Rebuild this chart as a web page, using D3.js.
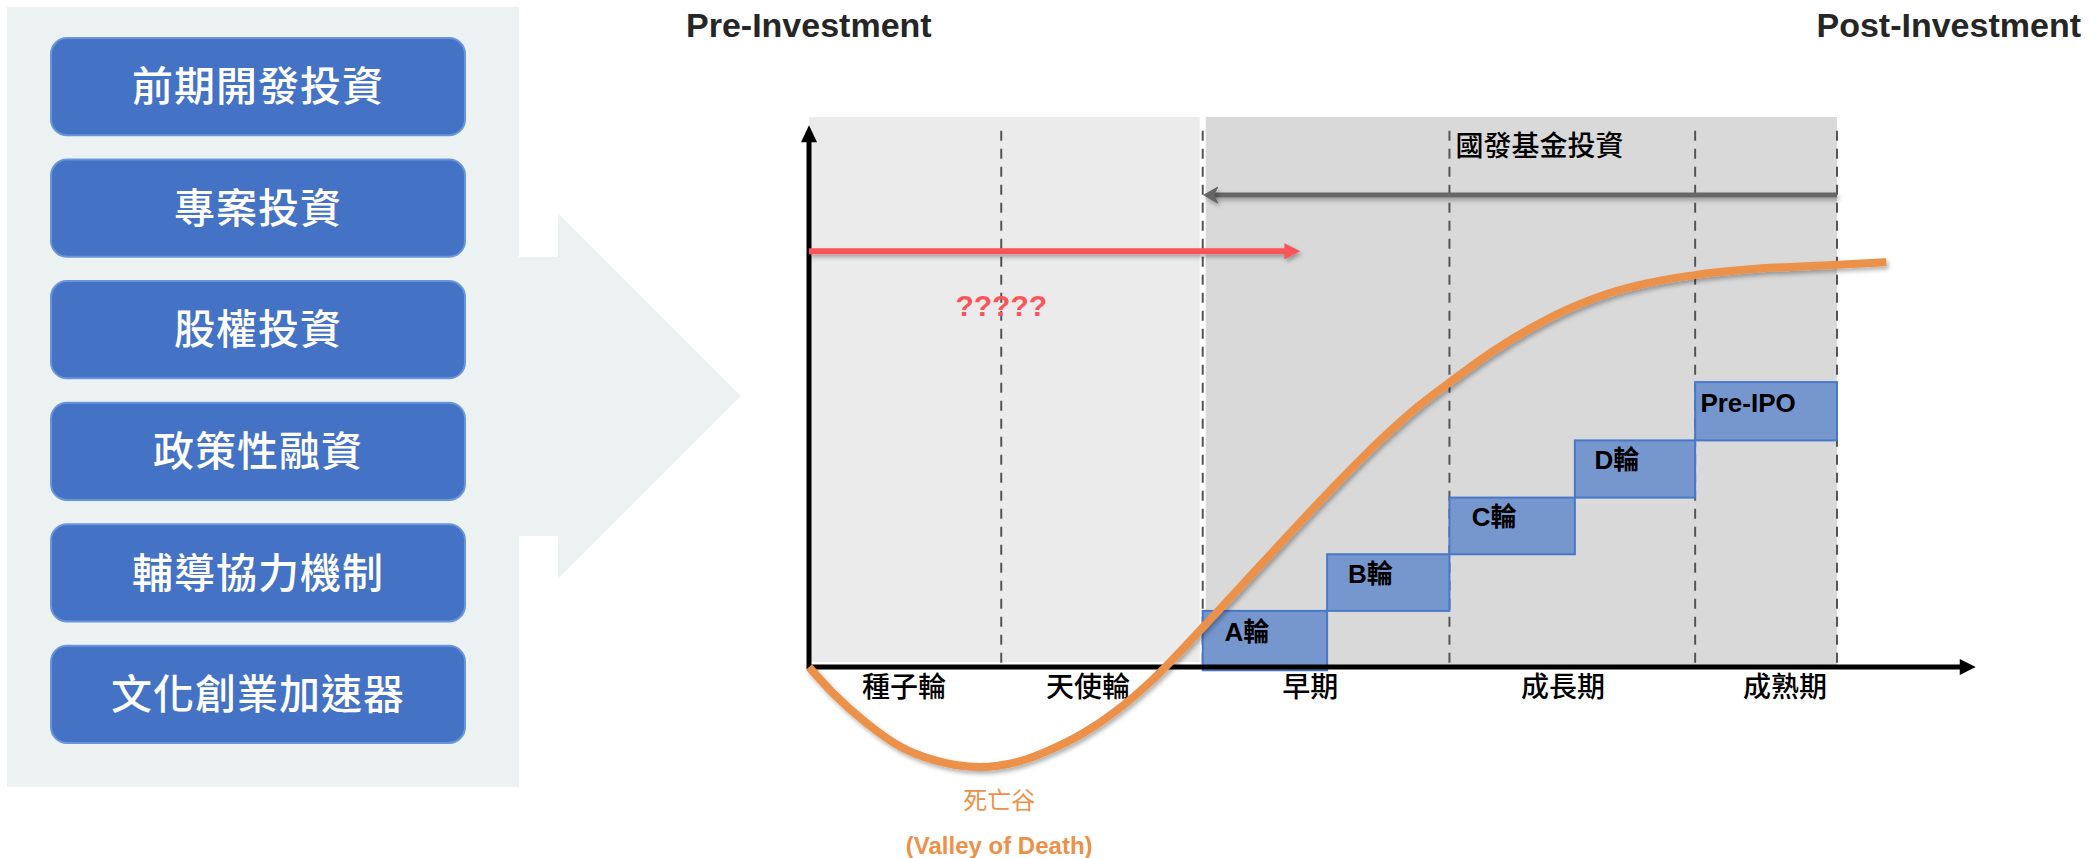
<!DOCTYPE html>
<html>
<head>
<meta charset="utf-8">
<script src="https://cdn.jsdelivr.net/npm/d3@7"></script>
<style>
  body { margin: 0; background: #fff; }
  svg { display: block; }
</style>
</head>
<body>
<div id="chart"></div>
<script>
// left list of tools
const sideItems = ['前期開發投資', '專案投資', '股權投資', '政策性融資', '輔導協力機制', '文化創業加速器'];

// stages along the x axis (x in stage units, 0..100 = start of seed .. end of mature)
const stageNames = ['種子輪', '天使輪', '早期', '成長期', '成熟期'];
const stageBounds = [0, 18.7, 38.3, 62.3, 86.2, 100];
const stageLabelAt = [9.2, 27.1, 48.7, 73.3, 94.9];

// funding rounds (steps)
const roundNames = ['A輪', 'B輪', 'C輪', 'D輪', 'Pre-IPO'];
const roundStart = [38.3, 50.4, 62.3, 74.5, 86.2];
const roundEnd = [50.4, 62.3, 74.5, 86.2, 100];
const roundLow = [-0.6, 10.2, 20.5, 30.8, 41.2];
const roundHigh = [10.2, 20.5, 30.8, 41.2, 51.8];

// company value curve through the valley of death
const curveX = [0, 2.3, 5.6, 8.9, 12.1, 16.6, 20.2, 23.4, 26.7, 30.0, 33.2, 38.5, 44.4, 50.1, 55.5, 59.2, 62.5, 66.7, 70.4, 74.1, 77.9, 81.6, 86.3, 92.2, 99.7, 104.8];
const curveY = [0, -4.7, -10.2, -14.5, -16.9, -18.2, -17.3, -15.1, -12.0, -7.8, -2.7, 7.6, 19.5, 30.9, 41.1, 47.3, 52.0, 57.6, 61.8, 65.3, 68.0, 69.8, 71.3, 72.4, 73.1, 73.6];

// flow arrows: unknown private funding (red) and 國發基金 (grey)
const flowNames = ['?????', '國發基金投資'];
const flowFrom = [0, 100];
const flowTo = [47.8, 38.4];
const flowLevel = [75.6, 85.8];

let
  w = 2100,
  h = 858,
  cjk = '"Noto Sans CJK TC", "Noto Sans CJK SC", sans-serif',
  latin = '"Liberation Sans", Arial, sans-serif',
  orange = '#EC9148',
  red = '#FB5458',
  grey = '#666',
  svg,
  defs,
  x,
  y,
  band,
  box,
  line,
  xAxisEnd = 113.5,
  yAxisTop = 98.5;

svg = d3.select('#chart')
  .append('svg')
  .attr('width', w)
  .attr('height', h)
  .style('background', '#fff');

defs = svg.append('defs');

// user space region so horizontal lines (zero-height bbox) still get a shadow
defs.append('filter')
  .attr('id', 'shadow')
  .attr('filterUnits', 'userSpaceOnUse')
  .attr('x', 0).attr('y', 0).attr('width', w).attr('height', h)
  .append('feDropShadow')
  .attr('dx', 2)
  .attr('dy', 3)
  .attr('stdDeviation', 2)
  .attr('flood-color', '#000')
  .attr('flood-opacity', 0.3);

// ---------- left panel ----------
svg.append('rect')
  .attr('x', 7).attr('y', 7)
  .attr('width', 512).attr('height', 780)
  .attr('fill', '#ECF2F2');

svg.append('path')
  .attr('d', 'M519,257 L558,257 L558,213 L741,396 L558,579 L558,536 L519,536 Z')
  .attr('fill', '#ECF2F2');

band = d3.scaleBand()
  .domain(sideItems)
  .range([38, 743])
  .paddingInner(0.2);

box = svg.selectAll('g.side')
  .data(sideItems)
  .enter().append('g')
  .attr('class', 'side')
  .attr('transform', function (d) { return 'translate(51,' + band(d) + ')'; });

box.append('rect')
  .attr('width', 414)
  .attr('height', band.bandwidth())
  .attr('rx', 16)
  .attr('fill', '#4472C4')
  .attr('stroke', '#6A95DA')
  .attr('stroke-width', 2);

box.append('text')
  .attr('x', 207)
  .attr('y', band.bandwidth() / 2)
  .attr('dy', '0.36em')
  .attr('text-anchor', 'middle')
  .attr('font-family', cjk)
  .attr('font-weight', 500)
  .attr('font-size', 41)
  .attr('letter-spacing', 1)
  .attr('fill', '#fff')
  .text(function (d) { return d; });

// ---------- titles ----------
svg.append('text')
  .attr('x', 686).attr('y', 37)
  .attr('font-family', latin).attr('font-weight', 'bold').attr('font-size', 34)
  .attr('fill', '#262626')
  .text('Pre-Investment');

svg.append('text')
  .attr('x', 2081).attr('y', 37)
  .attr('text-anchor', 'end')
  .attr('font-family', latin).attr('font-weight', 'bold').attr('font-size', 34)
  .attr('fill', '#262626')
  .text('Post-Investment');

// ---------- chart ----------
x = d3.scaleLinear().domain([0, 100]).range([809, 1837]);
y = d3.scaleLinear().domain([0, 100]).range([667, 117]);

// backgrounds: pre-investment / post-investment
svg.append('rect')
  .attr('x', x(stageBounds[0]))
  .attr('y', y(100))
  .attr('width', x(stageBounds[2]) - x(stageBounds[0]) - 3)
  .attr('height', y(0) - y(100) - 5)
  .attr('fill', '#EBEBEB');

svg.append('rect')
  .attr('x', x(stageBounds[2]) + 3)
  .attr('y', y(100))
  .attr('width', x(stageBounds[5]) - x(stageBounds[2]) - 3)
  .attr('height', y(0) - y(100))
  .attr('fill', '#D9D9D9');

// stage separators
svg.selectAll('line.sep')
  .data(stageBounds.slice(1))
  .enter().append('line')
  .attr('class', 'sep')
  .attr('x1', function (d) { return x(d); })
  .attr('x2', function (d) { return x(d); })
  .attr('y1', y(97.5))
  .attr('y2', y(0))
  .attr('stroke', '#555')
  .attr('stroke-width', 2)
  .attr('stroke-dasharray', '10,8');

// rounds
svg.selectAll('rect.round')
  .data(roundNames)
  .enter().append('rect')
  .attr('class', 'round')
  .attr('x', function (d, i) { return x(roundStart[i]); })
  .attr('y', function (d, i) { return y(roundHigh[i]); })
  .attr('width', function (d, i) { return x(roundEnd[i]) - x(roundStart[i]); })
  .attr('height', function (d, i) { return y(roundLow[i]) - y(roundHigh[i]); })
  .attr('fill', '#7597CD')
  .attr('stroke', '#4A78C8')
  .attr('stroke-width', 2);

// axes
svg.append('line')
  .attr('x1', x(0) - 2).attr('x2', x(xAxisEnd) - 14)
  .attr('y1', y(0)).attr('y2', y(0))
  .attr('stroke', '#000').attr('stroke-width', 5);

svg.append('path')
  .attr('d', 'M' + x(xAxisEnd) + ',' + y(0) + ' l-16,-8 l0,16 Z')
  .attr('fill', '#000');

svg.append('line')
  .attr('x1', x(0)).attr('x2', x(0))
  .attr('y1', y(0) + 2).attr('y2', y(yAxisTop) + 14)
  .attr('stroke', '#000').attr('stroke-width', 5);

svg.append('path')
  .attr('d', 'M' + x(0) + ',' + y(yAxisTop) + ' l-8,17 l16,0 Z')
  .attr('fill', '#000');

// round labels
svg.selectAll('text.round')
  .data(roundNames)
  .enter().append('text')
  .attr('class', 'round')
  .attr('x', function (d, i) { return (x(roundStart[i]) + x(roundEnd[i])) / 2 - 18; })
  .attr('y', function (d, i) { return (y(roundLow[i]) + y(roundHigh[i])) / 2 - 9; })
  .attr('dy', '0.36em')
  .attr('text-anchor', 'middle')
  .attr('font-family', latin + ', ' + cjk)
  .attr('font-weight', 'bold')
  .attr('font-size', 26)
  .attr('fill', '#000')
  .text(function (d) { return d; });

// stage labels
svg.append('g')
  .attr('transform', 'translate(0,' + y(0) + ')')
  .call(d3.axisBottom(x)
    .tickValues(stageLabelAt)
    .tickSize(0)
    .tickPadding(10)
    .tickFormat(function (d, i) { return stageNames[i]; }))
  .call(function (g) { g.select('.domain').remove(); })
  .selectAll('text')
  .attr('font-family', cjk)
  .attr('font-weight', 500)
  .attr('font-size', 28)
  .attr('fill', '#000');

// flow arrows
svg.selectAll('line.flow')
  .data(flowNames)
  .enter().append('line')
  .attr('class', 'flow')
  .attr('x1', function (d, i) { return x(flowFrom[i]); })
  .attr('x2', function (d, i) { return x(flowTo[i]) + (flowTo[i] > flowFrom[i] ? -14 : 8); })
  .attr('y1', function (d, i) { return y(flowLevel[i]); })
  .attr('y2', function (d, i) { return y(flowLevel[i]); })
  .attr('stroke', function (d, i) { return i === 0 ? red : grey; })
  .attr('stroke-width', function (d, i) { return i === 0 ? 6 : 5; })
  .attr('filter', 'url(#shadow)');

// red head (filled triangle)
svg.append('path')
  .attr('d', 'M' + x(flowTo[0]) + ',' + y(flowLevel[0]) + ' l-16,-8 l0,16 Z')
  .attr('fill', red)
  .attr('filter', 'url(#shadow)');

// grey head (notched)
svg.append('path')
  .attr('d', 'M' + x(flowTo[1]) + ',' + y(flowLevel[1]) + ' l14,-8 l-4,8 l4,8 Z')
  .attr('fill', grey)
  .attr('stroke', grey)
  .attr('stroke-width', 1)
  .attr('filter', 'url(#shadow)');

svg.append('text')
  .attr('x', x(stageBounds[1]))
  .attr('y', y(65.8))
  .attr('dy', '0.36em')
  .attr('text-anchor', 'middle')
  .attr('font-family', latin)
  .attr('font-weight', 'bold')
  .attr('font-size', 30)
  .attr('fill', red)
  .text(flowNames[0]);

svg.append('text')
  .attr('x', x(stageBounds[3]) + 6)
  .attr('y', y(flowLevel[1] + 9))
  .attr('dy', '0.36em')
  .attr('font-family', cjk)
  .attr('font-weight', 500)
  .attr('font-size', 28)
  .attr('fill', '#000')
  .text(flowNames[1]);

// value curve
line = d3.line()
  .x(function (d) { return x(d[0]); })
  .y(function (d) { return y(d[1]); })
  .curve(d3.curveMonotoneX);

svg.append('path')
  .datum(d3.zip(curveX, curveY))
  .attr('d', line)
  .attr('fill', 'none')
  .attr('stroke', orange)
  .attr('stroke-width', 8)
  .attr('filter', 'url(#shadow)');

// valley of death
svg.append('text')
  .attr('x', x(18.5))
  .attr('y', 800)
  .attr('dy', '0.36em')
  .attr('text-anchor', 'middle')
  .attr('font-family', cjk)
  .attr('font-size', 24)
  .attr('fill', orange)
  .text('死亡谷');

svg.append('text')
  .attr('x', x(18.5))
  .attr('y', 845)
  .attr('dy', '0.36em')
  .attr('text-anchor', 'middle')
  .attr('font-family', latin)
  .attr('font-weight', 'bold')
  .attr('font-size', 24)
  .attr('fill', orange)
  .text('(Valley of Death)');
</script>
</body>
</html>
